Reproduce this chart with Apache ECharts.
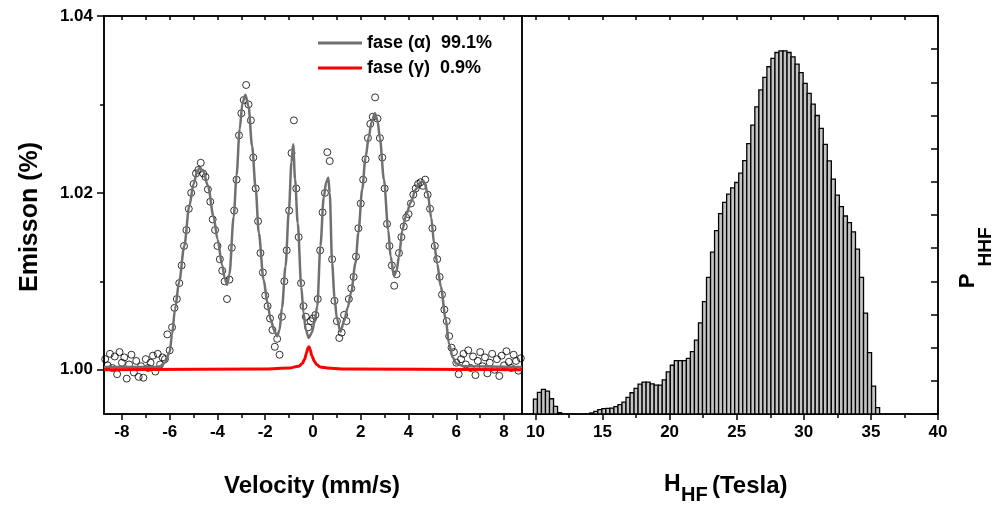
<!DOCTYPE html>
<html lang="en">
<head>
<meta charset="UTF-8"/>
<title>Emisson / HHF</title>
<script src="https://cdn.jsdelivr.net/npm/echarts@6/dist/echarts.min.js"></script>
<style>html,body{margin:0;padding:0;background:#fff;}</style>
</head>
<body>
<div id="main" style="width:997px;height:506px;"></div>
<script type="text/javascript">
// measured points, velocity grid -8.7 .. 8.7 step 0.1, values in 1e-4 above 1.0000
var velStart = -8.7, velStep = 0.1;
var emisPts = [
    12, 5, 18, 2, 15, -5, 20,
    8, 14, -10, 6, 17, -3, 10, -8, 4, -9,
    12, 2, 8, 16, -2, 18, 6, 14, 12, 40,
    22, 48, 70, 80, 98, 118, 140, 158, 182, 200,
    210, 222, 226, 234, 222, 218, 204, 190, 170, 158,
    140, 125, 112, 100, 80, 102, 138, 180, 215, 265,
    290, 305, 322, 300, 282, 240, 205, 168, 132, 110,
    84, 72, 58, 45, 26, 35, 17, 60, 100, 135,
    180, 245, 282, 205, 150, 98, 72, 60, 48, 55,
    58, 62, 80, 135, 178, 200, 246, 236, 125, 78,
    55, 36, 42, 62, 55, 80, 92, 105, 128, 160,
    188, 215, 238, 262, 278, 286, 308, 284, 262, 240,
    205, 165, 140, 118, 95, 108, 132, 150, 162, 172,
    176, 188, 198, 205, 210, 212, 208, 215, 198, 182,
    160, 140, 125, 105, 85, 68, 55, 38, 25, 20,
    8, -5, 12, 18, 6, 22, 2, 15, -6, 10,
    20, 4, 14, -4, 8, 18, 0, 12, -7, 16,
    5, 21, 9, 2, 17, 10, -1, 13
];

// fit, fase alpha (1e-4 units)
var fitX = [-8.75, -6.6, -6.4, -6.2, -6.0, -5.9, -5.78, -5.6, -5.39, -5.18, -5.0, -4.85, -4.75, -4.6, -4.4, -4.16, -4.0, -3.8, -3.7, -3.6,
    -3.5, -3.32, -3.2, -3.07, -2.95, -2.83, -2.7, -2.55, -2.4, -2.27, -2.07, -1.9, -1.78, -1.6, -1.5, -1.4, -1.3, -1.15, -1.01, -0.9,
    -0.83, -0.75, -0.64, -0.49, -0.4, -0.3, -0.18, -0.05, 0.05, 0.18, 0.31, 0.45, 0.55, 0.64, 0.7, 0.8, 0.9, 1.0, 1.15, 1.3,
    1.45, 1.6, 1.78, 1.9, 2.06, 2.2, 2.34, 2.45, 2.59, 2.7, 2.8, 2.97, 3.15, 3.25, 3.39, 3.5, 3.6, 3.74, 3.9, 4.09,
    4.3, 4.5, 4.65, 4.8, 4.95, 5.07, 5.2, 5.35, 5.56, 5.69, 5.85, 6.0, 6.3, 8.75];
var fitA = [3, 3, 4, 8, 20, 40, 68, 100, 140, 185, 210, 224, 228, 225, 208, 173, 148, 118, 104, 96,
    108, 173, 220, 272, 302, 311, 298, 253, 205, 155, 102, 75, 57, 43, 38, 45, 70, 117, 180, 235,
    255, 215, 166, 94, 65, 45, 36, 42, 52, 72, 140, 195, 212, 217, 200, 121, 82, 58, 43, 55,
    70, 88, 121, 155, 204, 240, 264, 280, 290, 282, 262, 215, 158, 128, 106, 112, 128, 158, 175, 189,
    204, 212, 213, 200, 172, 143, 120, 94, 57, 30, 14, 7, 4, 3];

// fit, fase gamma
var gamX = [-8.75, -2.0, -1.0, -0.6, -0.45, -0.35, -0.27, -0.22, -0.17, -0.12, -0.05, 0.05, 0.15, 0.3, 0.6, 1.2, 8.75];
var gamA = [0, 1, 2, 4, 7, 12, 19, 24, 26, 23, 16, 10, 6, 3, 2, 1, 0];

// HHF distribution, bins of 0.3 T starting at 10 T
var hfStart = 10, hfStep = 0.3;
var hfVals = [0.45, 0.65, 0.74, 0.69, 0.46, 0.23, 0.04, 0, 0, 0,
    0, 0, 0, 0, 0.03, 0.08, 0.13, 0.16, 0.17, 0.18,
    0.22, 0.28, 0.36, 0.5, 0.64, 0.77, 0.9, 0.96, 0.96, 0.91,
    0.87, 0.87, 1.03, 1.27, 1.47, 1.61, 1.61, 1.61, 1.68, 1.88,
    2.23, 2.75, 3.39, 4.12, 4.88, 5.53, 6.04, 6.38, 6.63, 6.82,
    6.98, 7.26, 7.64, 8.15, 8.71, 9.26, 9.77, 10.15, 10.47, 10.72,
    10.9, 10.95, 10.95, 10.9, 10.77, 10.55, 10.29, 9.97, 9.67, 9.34,
    9.0, 8.61, 8.13, 7.63, 7.08, 6.6, 6.25, 5.97, 5.77, 5.49,
    4.97, 4.12, 3.04, 1.85, 0.84, 0.19];

// ticks
var velMajor = [-8, -6, -4, -2, 0, 2, 4, 6, 8];
var velMinor = [-7, -5, -3, -1, 1, 3, 5, 7];
var velTop = [-8, -7, -6, -5, -4, -3, -2, -1, 0, 1, 2, 3, 4, 5, 6, 7, 8];
var emMajor = [1.00, 1.02, 1.04];
var emMinor = [1.01, 1.03];
var hfMajor = [10, 15, 20, 25, 30, 35, 40];
var hfMinor = [12.5, 17.5, 22.5, 27.5, 32.5, 37.5];
var hfTop = [10, 12.5, 15, 17.5, 20, 22.5, 25, 27.5, 30, 32.5, 35, 37.5, 40];

var legA = 'fase (\u03b1)  99.1%';
var legG = 'fase (\u03b3)  0.9%';

var FONT = '"Liberation Sans", Arial, sans-serif';

var ptsData = [];
for (var i = 0; i < emisPts.length; i++) {
    ptsData.push([velStart + velStep * i, 1 + emisPts[i] / 1e4]);
}
var fitData = [];
for (var i = 0; i < fitX.length; i++) fitData.push([fitX[i], 1 + fitA[i] / 1e4]);
var gamData = [];
for (var i = 0; i < gamX.length; i++) gamData.push([gamX[i], 1 + gamA[i] / 1e4]);
var hfData = [];
for (var i = 0; i < hfVals.length; i++) hfData.push([hfStart + hfStep * i, hfVals[i]]);

function tickAxis(grid, pos, min, max, vals, len, inside, showLine) {
    return {
        type: 'value', gridIndex: grid, position: pos, min: min, max: max,
        axisLine: {show: showLine, onZero: false, lineStyle: {color: '#000', width: 1.5}},
        axisTick: {show: true, customValues: vals, length: len, inside: inside, lineStyle: {color: '#000', width: 1.5}},
        axisLabel: {show: false},
        splitLine: {show: false}
    };
}

var lbl = {color: '#000', fontSize: 17, fontWeight: 'bold', fontFamily: FONT};

var xVel = tickAxis(0, 'bottom', -8.75, 8.75, velMajor, 6, false, true);
xVel.axisLabel = Object.assign({show: true, customValues: velMajor, margin: 10}, lbl);
var xHf = tickAxis(1, 'bottom', 9, 40, hfMajor, 6, false, true);
xHf.axisLabel = Object.assign({show: true, customValues: hfMajor, margin: 10}, lbl);
var yEm = tickAxis(0, 'left', 0.995, 1.04, emMajor, 7, false, true);
yEm.axisLabel = Object.assign({show: true, customValues: emMajor, margin: 11,
    formatter: function (v) { return v.toFixed(2); }}, lbl);
var yP = tickAxis(1, 'right', 0, 12, null, 7, true, true);
yP.interval = 1;
delete yP.axisTick.customValues;

var myChart = echarts.init(document.getElementById('main'), null, {renderer: 'canvas'});
myChart.setOption({
    animation: false,
    backgroundColor: '#fff',
    textStyle: {fontFamily: FONT},
    grid: [
        {left: 104, top: 16, width: 418, height: 398, show: true, borderColor: '#000', borderWidth: 1.5},
        {left: 522, top: 16, width: 416, height: 398, show: true, borderColor: '#000', borderWidth: 1.5}
    ],
    legend: {
        data: [legA, legG], orient: 'vertical', left: 318, top: 34, padding: 0,
        itemWidth: 44, itemHeight: 3, itemGap: 7, icon: 'rect',
        textStyle: {color: '#000', fontSize: 18, fontWeight: 'bold', fontFamily: FONT}
    },
    xAxis: [
        xVel,
        tickAxis(0, 'bottom', -8.75, 8.75, velMinor, 4, false, false),
        tickAxis(0, 'top', -8.75, 8.75, velTop, 4, true, true),
        xHf,
        tickAxis(1, 'bottom', 9, 40, hfMinor, 4, false, false),
        tickAxis(1, 'top', 9, 40, hfTop, 4, true, true)
    ],
    yAxis: [
        yEm,
        tickAxis(0, 'left', 0.995, 1.04, emMinor, 4, false, false),
        yP
    ],
    series: [
        {
            type: 'scatter', xAxisIndex: 0, yAxisIndex: 0, data: ptsData,
            symbol: 'circle', symbolSize: 7,
            itemStyle: {color: 'transparent', borderColor: '#000', borderWidth: 1}
        },
        {
            name: legA, type: 'line', xAxisIndex: 0, yAxisIndex: 0, data: fitData,
            showSymbol: false, smooth: 0.3, smoothMonotone: 'x',
            itemStyle: {color: '#707070'}, lineStyle: {color: '#707070', width: 2.5}
        },
        {
            name: legG, type: 'line', xAxisIndex: 0, yAxisIndex: 0, data: gamData,
            showSymbol: false, smooth: 0.3, smoothMonotone: 'x',
            itemStyle: {color: '#ff0000'}, lineStyle: {color: '#ff0000', width: 3}
        },
        {
            type: 'custom', xAxisIndex: 3, yAxisIndex: 2, data: hfData,
            renderItem: function (params, api) {
                var x = api.value(0), h = api.value(1);
                if (h <= 0) return;
                var p0 = api.coord([x - hfStep / 2, 0]);
                var p1 = api.coord([x + hfStep / 2, h]);
                return {
                    type: 'rect',
                    shape: {x: p0[0], y: p1[1], width: p1[0] - p0[0], height: p0[1] - p1[1]},
                    style: {fill: '#c4c4c4', stroke: '#000', lineWidth: 1.3}
                };
            }
        }
    ],
    graphic: [
        {type: 'text', x: 30, y: 217, rotation: Math.PI / 2,
            style: {text: 'Emisson (%)', fontSize: 25, fontWeight: 'bold', fontFamily: FONT, fill: '#000',
                textAlign: 'center', textVerticalAlign: 'middle', verticalAlign: 'middle'}},
        {type: 'text', x: 312, y: 486,
            style: {text: 'Velocity (mm/s)', fontSize: 24, fontWeight: 'bold', fontFamily: FONT, fill: '#000',
                textAlign: 'center', textVerticalAlign: 'middle', verticalAlign: 'middle'}},
        {type: 'text', x: 664, y: 485,
            style: {text: 'H', fontSize: 23, fontWeight: 'bold', fontFamily: FONT, fill: '#000',
                textAlign: 'left', textVerticalAlign: 'middle', verticalAlign: 'middle'}},
        {type: 'text', x: 681, y: 495,
            style: {text: 'HF', fontSize: 20, fontWeight: 'bold', fontFamily: FONT, fill: '#000',
                textAlign: 'left', textVerticalAlign: 'middle', verticalAlign: 'middle'}},
        {type: 'text', x: 712, y: 486,
            style: {text: '(Tesla)', fontSize: 24, fontWeight: 'bold', fontFamily: FONT, fill: '#000',
                textAlign: 'left', textVerticalAlign: 'middle', verticalAlign: 'middle'}},
        {type: 'text', x: 968, y: 281, rotation: Math.PI / 2,
            style: {text: 'P', fontSize: 22, fontWeight: 'bold', fontFamily: FONT, fill: '#000',
                textAlign: 'center', textVerticalAlign: 'middle', verticalAlign: 'middle'}},
        {type: 'text', x: 986, y: 247, rotation: Math.PI / 2,
            style: {text: 'HHF', fontSize: 19, fontWeight: 'bold', fontFamily: FONT, fill: '#000',
                textAlign: 'center', textVerticalAlign: 'middle', verticalAlign: 'middle'}}
    ]
});
</script>
</body>
</html>
